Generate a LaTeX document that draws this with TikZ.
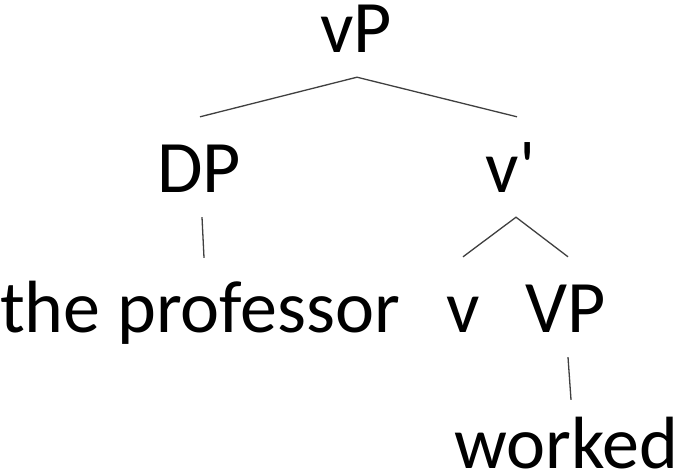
\documentclass[tikz,border=0pt]{standalone}
\usepackage{fontspec}
\setmainfont{Carlito}
\begin{document}
\begin{tikzpicture}[x=1pt,y=-1pt,
  lab/.style={inner sep=0pt, anchor=base, text height=45pt, text depth=0pt,
              font=\fontsize{74}{88}\selectfont},
  branch/.style={draw=black!75, line width=1.3pt}]
\useasboundingbox[fill=white] (0,0) rectangle (676,472);

% node labels, placed on their baselines
\node[lab] (vP)    at (356,52)  {vP};
\node[lab] (DP)    at (199,192) {DP};
\node[lab] (vbar)  at (510.5,192) {v\textquotesingle};
\node[lab] (prof)  at (200,332) {the professor};
\node[lab] (v)     at (463,332) {v};
\node[lab] (VP)    at (566,332) {VP};
\node[lab] (work)  at (566,468) {worked};

% branches
\draw[branch] ([xshift=1pt,yshift=30pt]DP.north) -- ([xshift=1pt,yshift=-25pt]vP.south)
              -- ([xshift=6.5pt,yshift=30pt]vbar.north);
\draw[branch] ([xshift=3pt,yshift=-25pt]DP.south) -- ([xshift=4pt,yshift=29pt]prof.north);
\draw[branch] ([yshift=30pt]v.north) -- ([xshift=5.5pt,yshift=-25pt]vbar.south)
              -- ([xshift=2pt,yshift=30pt]VP.north);
\draw[branch] ([xshift=2pt,yshift=-25pt]VP.south) -- ([xshift=5pt,yshift=23pt]work.north);
\end{tikzpicture}
\end{document}
